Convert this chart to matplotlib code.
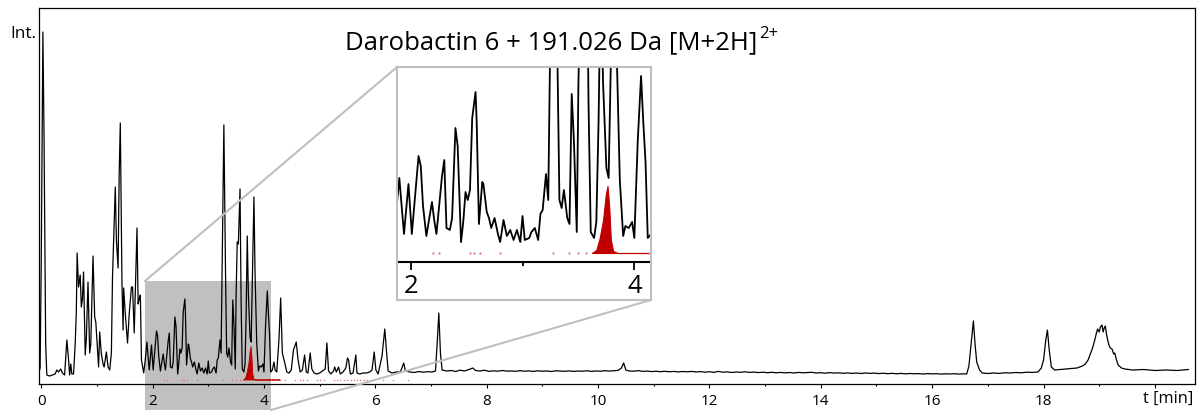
import numpy as np
import matplotlib.pyplot as plt
from matplotlib.lines import Line2D
from matplotlib.patches import Rectangle

plt.rcParams['font.family'] = ['Open Sans', 'DejaVu Sans']

# chromatogram (TIC): (time [min], intensity)
early = [(-0.04, 12), (-0.02, 16), (0.00, 120), (0.03, 352), (0.05, 250), (0.08, 40),
         (0.10, 9), (0.15, 8), (0.20, 9), (0.25, 10), (0.28, 14), (0.31, 12), (0.35, 15),
         (0.38, 11), (0.42, 9), (0.46, 44), (0.49, 25), (0.51, 9), (0.53, 20), (0.55, 10),
         (0.58, 10), (0.61, 40), (0.63, 72), (0.645, 131), (0.67, 97), (0.70, 109), (0.72, 77),
         (0.74, 85), (0.76, 112), (0.79, 29), (0.81, 45), (0.84, 102), (0.87, 31), (0.89, 40),
         (0.93, 128), (0.96, 67), (0.98, 62), (1.03, 17), (1.05, 52), (1.08, 30), (1.11, 20),
         (1.13, 17), (1.17, 32), (1.20, 17), (1.23, 14), (1.26, 31), (1.28, 107), (1.33, 197),
         (1.35, 144), (1.38, 116), (1.40, 210), (1.42, 261), (1.45, 100), (1.47, 54), (1.48, 96),
         (1.51, 70), (1.55, 41), (1.58, 70), (1.62, 97), (1.64, 97), (1.67, 51), (1.72, 156),
         (1.74, 80), (1.76, 85), (1.78, 89), (1.80, 24), (1.84, 11)]
zoomed = [(1.87, 25), (1.898, 42), (1.94, 14), (1.98, 39), (2.01, 14), (2.07, 53), (2.09, 48),
          (2.11, 28), (2.14, 13), (2.19, 30), (2.21, 21), (2.23, 14), (2.28, 43), (2.30, 51),
          (2.32, 17), (2.35, 16), (2.37, 22), (2.40, 67), (2.42, 58), (2.45, 10), (2.47, 20),
          (2.49, 35), (2.51, 31), (2.53, 36), (2.55, 72), (2.58, 85), (2.59, 70), (2.61, 19),
          (2.64, 40), (2.65, 39), (2.68, 25), (2.70, 22), (2.72, 17), (2.75, 22), (2.78, 14),
          (2.80, 10), (2.83, 21), (2.86, 13), (2.89, 16), (2.92, 11), (2.95, 16), (2.98, 10),
          (3.00, 23), (3.02, 11), (3.06, 12), (3.08, 15), (3.11, 17), (3.14, 11), (3.16, 24),
          (3.18, 26), (3.21, 44), (3.23, 31), (3.25, 120), (3.28, 259), (3.31, 110), (3.33, 31),
          (3.35, 27), (3.37, 36), (3.40, 22), (3.42, 19), (3.44, 84), (3.46, 60), (3.485, 15),
          (3.50, 90), (3.52, 142), (3.54, 140), (3.57, 195), (3.59, 80), (3.61, 15), (3.64, 12),
          (3.66, 20), (3.68, 70), (3.70, 148), (3.72, 90), (3.75, 47), (3.77, 42), (3.79, 100),
          (3.82, 187), (3.84, 110), (3.87, 41), (3.90, 13), (3.92, 18), (3.95, 17), (3.98, 20),
          (4.00, 12), (4.03, 60), (4.06, 93), (4.08, 70), (4.10, 50), (4.12, 12), (4.15, 14)]
late = [(4.18, 22), (4.20, 14), (4.23, 12), (4.27, 45), (4.30, 86), (4.33, 31), (4.37, 22),
        (4.41, 12), (4.45, 11), (4.49, 14), (4.53, 34), (4.56, 39), (4.58, 42), (4.61, 25),
        (4.65, 12), (4.69, 14), (4.73, 29), (4.76, 12), (4.79, 11), (4.83, 31), (4.86, 15),
        (4.90, 11), (4.95, 10), (5.00, 11), (5.05, 13), (5.10, 15), (5.13, 41), (5.16, 13),
        (5.20, 10), (5.25, 13), (5.27, 17), (5.30, 12), (5.34, 17), (5.37, 10), (5.42, 12),
        (5.47, 16), (5.50, 26), (5.52, 24), (5.55, 10), (5.60, 11), (5.65, 29), (5.67, 11),
        (5.72, 10), (5.78, 11), (5.84, 11), (5.90, 12), (5.94, 14), (5.98, 32), (6.01, 14),
        (6.05, 10), (6.09, 20), (6.12, 28), (6.17, 55), (6.20, 33), (6.23, 13), (6.30, 11),
        (6.38, 12), (6.45, 12), (6.51, 21), (6.54, 13)]
baseline = [(6.62, 12), (6.70, 11.5), (6.78, 12.5), (6.86, 11.8), (6.94, 12.3), (7.02, 12),
            (7.08, 13), (7.11, 40), (7.14, 71), (7.17, 30), (7.20, 14), (7.28, 13), (7.36, 13.5),
            (7.44, 12.5), (7.52, 13.8), (7.60, 13), (7.68, 14.5), (7.75, 16), (7.80, 13.5),
            (7.88, 13), (7.96, 13.8), (8.04, 12.6), (8.12, 13.2), (8.20, 12.8), (8.28, 13.5),
            (8.36, 12.9), (8.44, 13), (8.52, 12.7), (8.60, 13.3), (8.68, 12.8), (8.76, 13.1),
            (8.84, 12.6), (8.92, 13.2), (9.00, 12.8), (9.08, 13), (9.16, 12.5), (9.24, 13.2),
            (9.32, 12.9), (9.40, 12.7), (9.48, 13.1), (9.56, 12.6), (9.64, 13), (9.72, 12.8),
            (9.80, 13.2), (9.88, 12.6), (9.96, 13), (10.04, 12.8), (10.12, 13.3), (10.20, 12.9),
            (10.28, 13.2), (10.36, 13.6), (10.42, 16), (10.46, 21), (10.50, 14), (10.56, 13),
            (10.64, 12.8), (10.72, 13.4), (10.80, 12.6), (10.88, 12.9), (10.96, 12.4),
            (11.04, 12.8), (11.12, 12.3), (11.20, 12.7), (11.28, 12.2), (11.36, 12.6),
            (11.44, 12.1), (11.52, 12.5), (11.60, 12.2), (11.68, 12.6), (11.76, 12),
            (11.84, 12.4), (11.92, 11.8), (12.00, 12.3), (12.08, 11.6), (12.16, 12.6),
            (12.24, 11.8), (12.32, 12.1), (12.40, 11.5), (12.48, 12), (12.56, 11.7),
            (12.64, 12.2), (12.72, 11.6), (12.80, 11.9), (12.88, 11.4), (12.96, 11.8),
            (13.04, 11.3), (13.12, 11.7), (13.20, 11.2), (13.28, 11.6), (13.36, 11.1),
            (13.44, 11.5), (13.52, 11), (13.60, 11.6), (13.68, 11.2), (13.76, 11.4),
            (13.84, 11.7), (13.92, 11), (14.00, 11.3), (14.08, 10.8), (14.16, 11.4),
            (14.24, 10.9), (14.32, 11.2), (14.40, 10.7), (14.48, 11.1), (14.56, 10.6),
            (14.64, 11), (14.72, 10.5), (14.80, 11), (14.88, 10.6), (14.96, 10.9), (15.04, 10.4),
            (15.12, 10.8), (15.20, 10.3), (15.28, 10.7), (15.36, 10.2), (15.44, 10.6),
            (15.52, 10.1), (15.60, 10.5), (15.68, 10.2), (15.76, 10.4), (15.84, 10),
            (15.92, 10.4), (16.00, 10.1), (16.08, 10.3), (16.16, 9.9), (16.24, 10.2),
            (16.32, 10), (16.40, 10.3), (16.48, 9.9), (16.56, 10.2)]
wash = [(16.62, 10), (16.66, 18), (16.70, 40), (16.74, 63), (16.77, 40), (16.80, 22),
        (16.85, 14), (16.90, 11), (17.00, 10.5), (17.10, 11), (17.20, 10.6), (17.30, 11.2),
        (17.40, 11), (17.50, 11.5), (17.60, 11.2), (17.70, 11.8), (17.80, 11.6), (17.90, 12),
        (17.96, 16), (18.00, 24), (18.04, 44), (18.07, 54), (18.10, 35), (18.14, 17),
        (18.20, 14), (18.30, 14.5), (18.40, 15), (18.50, 15.5), (18.60, 16), (18.70, 18),
        (18.75, 20), (18.80, 24), (18.84, 30), (18.88, 36), (18.92, 44), (18.95, 51),
        (18.97, 55), (19.00, 52), (19.02, 57), (19.05, 59), (19.07, 52), (19.09, 56),
        (19.11, 58), (19.13, 50), (19.16, 42), (19.18, 38), (19.20, 36), (19.23, 35),
        (19.26, 30), (19.28, 31), (19.31, 24), (19.34, 19), (19.40, 16), (19.46, 15),
        (19.60, 14), (19.80, 14.5), (20.00, 13.5), (20.20, 14), (20.40, 13.5), (20.60, 14.5)]

# extracted ion chromatogram of the adduct (red)
eic_t = [3.62, 3.66, 3.69, 3.72, 3.745, 3.76, 3.775, 3.79, 3.81, 3.85, 4.28]
eic_i = [4.5, 6, 12, 21, 34, 38, 28, 11, 5.5, 4.5, 4.5]
eic_dots = [2.20, 2.25, 2.53, 2.57, 2.62, 2.80, 3.27, 3.42, 3.50, 3.57, 4.13, 4.18, 4.22,
            4.29, 4.38, 4.56, 4.65, 4.70, 4.77, 4.95, 5.01, 5.07, 5.25, 5.31, 5.37, 5.43,
            5.50, 5.56, 5.62, 5.67, 5.73, 5.79, 5.85, 5.91, 6.14, 6.32, 6.59]
eic_base = 4.5

tic = np.array(early + zoomed + late + baseline + wash)
rt, inten = tic[:, 0], tic[:, 1]

W, H = 1203, 416
def fx(px):
    return px / W
def fy(py):
    return 1 - py / H

fig = plt.figure(figsize=(W / 100, H / 100), dpi=100)

# main axes
ax = fig.add_axes([fx(39), fy(384), fx(1195) - fx(39), fy(8) - fy(384)])
ax.plot(rt, inten, color='black', lw=0.9, zorder=3)
ax.fill_between(eic_t, eic_base, eic_i, color='#c00000', lw=0.6, ec='#c00000', zorder=4)
ax.plot(eic_dots, [eic_base] * len(eic_dots), 's', ms=0.9, color='#e07070', mec='none', zorder=4)
ax.add_patch(Rectangle((1.87, -26), 2.26, 129, fc='#c0c0c0', ec='none', clip_on=False, zorder=1))
ax.set_xlim(-0.04, 20.72)
ax.set_ylim(0, 376)
ax.set_yticks([])
ax.set_xticks(np.arange(0, 21, 2))
ax.set_xticklabels([str(v) for v in range(0, 19, 2)] + [''])
ax.set_xticks(np.arange(1, 20, 2), minor=True)
ax.tick_params(axis='x', which='major', direction='out', length=3, width=0.8, labelsize=11, pad=4)
ax.tick_params(axis='x', which='minor', direction='out', length=1.6, width=0.8)
for s in ax.spines.values():
    s.set_linewidth(0.9)

# zoom inset
axi = fig.add_axes([fx(398.3), fy(262), fx(650) - fx(398.3), fy(67) - fy(262)])
axi.plot(rt, inten, color='black', lw=1.3, zorder=3)
axi.fill_between(eic_t, eic_base, eic_i, color='#c00000', lw=0.8, ec='#c00000', zorder=4)
axi.plot(eic_dots, [eic_base] * len(eic_dots), 's', ms=1.4, color='#e07070', mec='none', zorder=4)
axi.set_xlim(1.889, 4.14)
axi.set_ylim(0, 97.5)
axi.set_yticks([])
axi.set_xticks([2, 4])
axi.set_xticks([3], minor=True)
axi.tick_params(axis='x', which='major', direction='out', length=5.5, width=1.3, labelsize=18.5, pad=3)
axi.tick_params(axis='x', which='minor', direction='out', length=3, width=1.3)
for side in ['top', 'left', 'right']:
    axi.spines[side].set_visible(False)
axi.spines['bottom'].set_linewidth(1.5)

grey = '#bfbfbf'
fig.add_artist(Rectangle((fx(397), fy(300)), fx(651) - fx(397), fy(67) - fy(300),
                         transform=fig.transFigure, fill=False, ec=grey, lw=1.5))
fig.add_artist(Line2D([fx(145), fx(397)], [fy(281), fy(67)], color=grey, lw=1.5))
fig.add_artist(Line2D([fx(271), fx(651)], [fy(410), fy(300)], color=grey, lw=1.5))

title = fig.text(fx(345), fy(49), 'Darobactin 6 + 191.026 Da [M+2H]', fontsize=18.5,
                 ha='left', va='baseline')
fig.canvas.draw()
bb = title.get_window_extent()
fig.text(bb.x1 / W + fx(2), fy(38.5), '2+', fontsize=12, ha='left', va='baseline')
fig.text(fx(10), fy(38.5), 'Int.', fontsize=12.3, ha='left', va='baseline')
fig.text(fx(1193), fy(403), 't [min]', fontsize=11.8, ha='right', va='baseline')

fig.savefig('out.png', dpi=100)
